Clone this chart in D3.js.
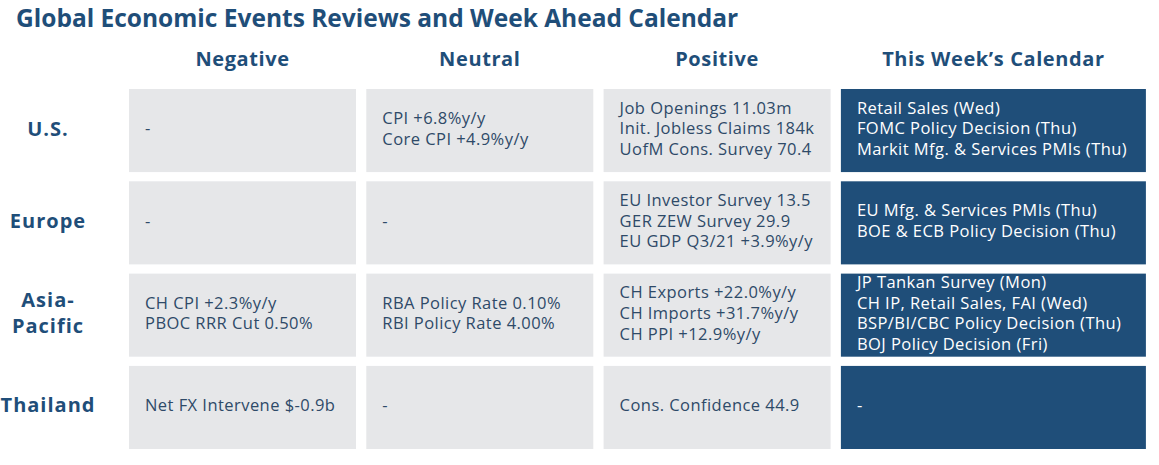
<!DOCTYPE html>
<html>
<head>
<meta charset="utf-8">
<script src="https://cdn.jsdelivr.net/npm/d3@7"></script>
<style>
  html, body { margin: 0; padding: 0; background: #ffffff; }
  svg { display: block; }
  text { font-family: "Open Sans", "DejaVu Sans", sans-serif; }
</style>
</head>
<body>
<svg id="chart" width="1159" height="465"></svg>
<script>
const title = "Global Economic Events Reviews and Week Ahead Calendar";
const columns = ["Negative", "Neutral", "Positive", "This Week\u2019s Calendar"];
const regions = [["U.S."], ["Europe"], ["Asia-", "Pacific"], ["Thailand"]];

const negative = [
  ["-"],
  ["-"],
  ["CH CPI +2.3%y/y", "PBOC RRR Cut 0.50%"],
  ["Net FX Intervene $-0.9b"]
];
const neutral = [
  ["CPI +6.8%y/y", "Core CPI +4.9%y/y"],
  ["-"],
  ["RBA Policy Rate 0.10%", "RBI Policy Rate 4.00%"],
  ["-"]
];
const positive = [
  ["Job Openings 11.03m", "Init. Jobless Claims 184k", "UofM Cons. Survey 70.4"],
  ["EU Investor Survey 13.5", "GER ZEW Survey 29.9", "EU GDP Q3/21 +3.9%y/y"],
  ["CH Exports +22.0%y/y", "CH Imports +31.7%y/y", "CH PPI +12.9%y/y"],
  ["Cons. Confidence 44.9"]
];
const calendar = [
  ["Retail Sales (Wed)", "FOMC Policy Decision (Thu)", "Markit Mfg. & Services PMIs (Thu)"],
  ["EU Mfg. & Services PMIs (Thu)", "BOE & ECB Policy Decision (Thu)"],
  ["JP Tankan Survey (Mon)", "CH IP, Retail Sales, FAI (Wed)", "BSP/BI/CBC Policy Decision (Thu)", "BOJ Policy Decision (Fri)"],
  ["-"]
];
const columnData = [negative, neutral, positive, calendar];

// layout
const navy = "#1f4e79";
const cellGray = "#e6e7e9";
const cellText = "#2e4a68";
const colWidths = [227, 227, 227, 305];
const colGap = 10.3;
const x0 = 129;
const colX = [];
colWidths.reduce((acc, w, i) => { colX.push(acc); return acc + w + colGap; }, x0);

const svg = d3.select("#chart");

const y = d3.scaleBand()
  .domain(regions.map(r => r.join(" ")))
  .range([89, 449])
  .paddingInner(0.1)
  .paddingOuter(0);

const lineH = 20.7;

// title
svg.append("text")
  .attr("x", 16).attr("y", 27)
  .attr("fill", navy)
  .attr("font-size", 24.5)
  .attr("font-weight", 700)
  .attr("letter-spacing", 0)
  .text(title);

// column headers
svg.selectAll("text.colhead")
  .data(columns)
  .join("text")
  .attr("class", "colhead")
  .attr("x", (d, i) => colX[i] + colWidths[i] / 2)
  .attr("y", 66)
  .attr("text-anchor", "middle")
  .attr("fill", navy)
  .attr("font-size", 20)
  .attr("font-weight", 700)
  .attr("letter-spacing", 0.6)
  .text(d => d);

// row labels
const rowLab = svg.selectAll("text.rowlab")
  .data(regions)
  .join("text")
  .attr("class", "rowlab")
  .attr("text-anchor", "middle")
  .attr("fill", navy)
  .attr("font-size", 20)
  .attr("font-weight", 700)
  .attr("letter-spacing", 1);
rowLab.each(function(lines) {
  const cy = y(lines.join(" ")) + y.bandwidth() / 2;
  const lh = 26.5;
  const top = cy - (lines.length - 1) * lh / 2 - 2;
  d3.select(this).selectAll("tspan")
    .data(lines)
    .join("tspan")
    .attr("x", 48)
    .attr("y", (d, i) => top + i * lh)
    .attr("dy", "0.35em")
    .text(d => d);
});

// cells
columnData.forEach((col, ci) => {
  const isCal = ci === 3;
  const g = svg.append("g");
  col.forEach((lines, ri) => {
    const key = regions[ri].join(" ");
    const by = y(key);
    g.append("rect")
      .attr("x", colX[ci])
      .attr("y", by)
      .attr("width", colWidths[ci])
      .attr("height", y.bandwidth())
      .attr("fill", isCal ? navy : cellGray);
    const cy = by + y.bandwidth() / 2 - 2;
    const top = cy - (lines.length - 1) * lineH / 2;
    const t = g.append("text")
      .attr("fill", isCal ? "#ffffff" : cellText)
      .attr("font-size", 16.5)
      .attr("letter-spacing", 0.45);
    t.selectAll("tspan")
      .data(lines)
      .join("tspan")
      .attr("x", colX[ci] + 16)
      .attr("y", (d, i) => top + i * lineH)
      .attr("dy", "0.35em")
      .text(d => d);
  });
});
</script>
</body>
</html>
